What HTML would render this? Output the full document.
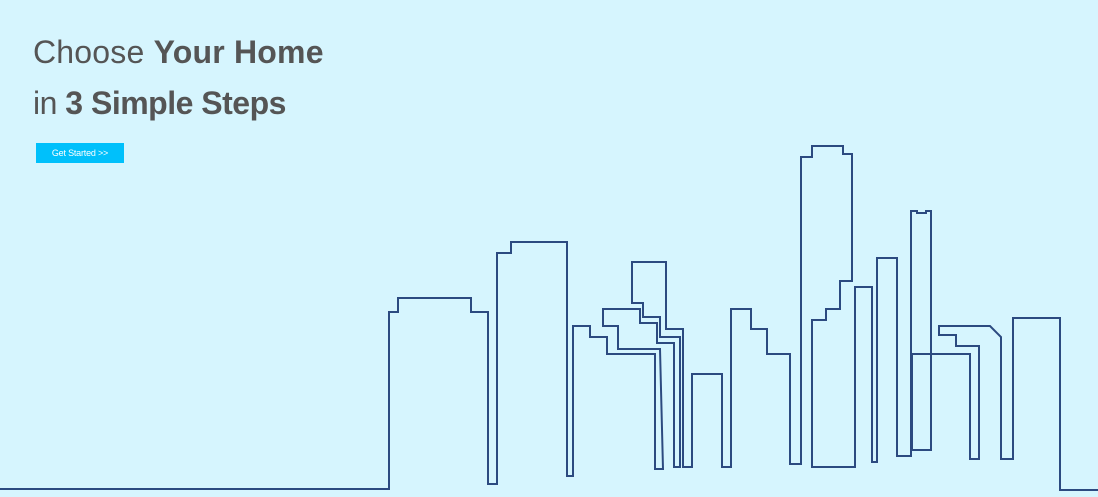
<!DOCTYPE html>
<html><head><meta charset="utf-8"><style>
html,body{margin:0;padding:0}
body{width:1098px;height:497px;background:#d6f5fe;position:relative;overflow:hidden;font-family:"Liberation Sans",sans-serif}
.h{position:absolute;left:33px;color:#555;font-size:32px;line-height:1;white-space:nowrap;letter-spacing:-0.5px}
.h b{font-weight:bold}
#l1{top:36px;letter-spacing:0.2px}
#l2{top:87px}
#btn{position:absolute;left:36px;top:143px;width:88px;height:20px;background:#00c0fb;color:#fff;font-size:9px;line-height:20px;text-align:center;letter-spacing:-0.2px}
svg{position:absolute;left:0;top:0}
</style></head><body>
<div class="h" id="l1">Choose <b>Your Home</b></div>
<div class="h" id="l2">in <b>3 Simple Steps</b></div>
<div id="btn">Get Started &gt;&gt;</div>
<svg width="1098" height="497">
<polyline fill="none" stroke="#2c4a80" stroke-width="2" points="
0,489 389,489 389,312 398,312 398,298 471,298 471,312 488,312 488,484 497,484 497,253 511,253 511,242 567,242 567,476 573,476 573,326 590,326 590,337 607,337 607,354 655,354 655,469 663,469 660,349 618,349 618,326 603,326 603,309 640,309 640,323 657,323 657,343 674,343 674,467 680,467 680,337 660,337 660,317 643,317 643,303 632,303 632,262 666,262 666,329 683,329 683,467 692,467 692,374 722,374 722,467 731,467 731,309 751,309 751,329 767,329 767,354 790,354 790,464 801,464 801,157 812,157 812,146 843,146 843,154 852,154 852,281 840,281 840,309 826,309 826,320 812,320 812,467 855,467 855,287 872,287 872,462 877,462 877,258 897,258 897,456 911,456 911,211 917,211 917,213 926,213 926,211 931,211 931,450 912,450 912,354 970,354 970,459 979,459 979,346 956,346 956,335 939,335 939,326 990,326 1001,337 1001,459 1013,459 1013,318 1060,318 1060,490 1098,490"/>
</svg>
</body></html>
